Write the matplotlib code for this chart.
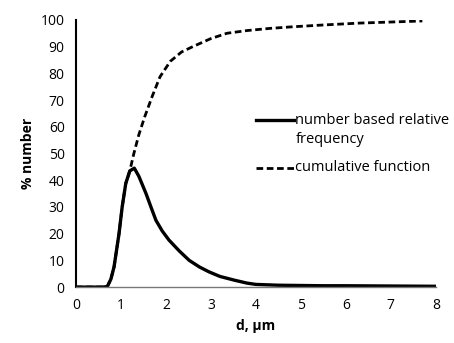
import matplotlib.pyplot as plt

plt.rcParams['font.family'] = ['Open Sans', 'DejaVu Sans']

# number based relative frequency
d_freq = [0.0, 0.3, 0.6, 0.7, 0.78, 0.85, 0.96, 1.03, 1.11, 1.2, 1.3, 1.4, 1.56, 1.68, 1.78,
          1.92, 2.07, 2.3, 2.52, 2.75, 2.96, 3.2, 3.52, 3.8, 4.0, 4.5, 5.0, 5.5, 6.0, 7.0, 8.0]
freq = [0.0, 0.0, 0.0, 0.2, 3.0, 7.6, 20.0, 30.0, 38.8, 43.5, 44.5, 41.5, 35.0, 29.5, 25.0,
        21.0, 17.6, 13.5, 10.0, 7.5, 5.7, 4.0, 2.6, 1.5, 1.0, 0.7, 0.6, 0.5, 0.5, 0.4, 0.3]

# cumulative function
d_cum = [0.0, 0.6, 0.7, 0.78, 0.85, 0.96, 1.03, 1.11, 1.2, 1.29, 1.4, 1.53, 1.7, 1.87, 2.1,
         2.35, 2.6, 3.0, 3.36, 3.8, 4.3, 4.8, 5.5, 6.3, 7.0, 7.7]
cum = [0.0, 0.0, 0.2, 3.0, 7.6, 20.0, 30.0, 38.8, 43.5, 50.0, 57.0, 63.7, 71.5, 78.7, 84.5,
       88.0, 90.0, 93.0, 95.0, 96.0, 96.8, 97.4, 98.1, 98.8, 99.2, 99.6]

fig = plt.figure(figsize=(4.54, 3.43), dpi=100)
ax = fig.add_axes([0.167, 0.163, 0.793, 0.779])

ax.plot(d_freq, freq, color='black', lw=2.4, solid_capstyle='round')
ax.plot(d_cum, cum, color='black', lw=2.0, linestyle=(0, (2.4, 1.3)))

ax.set_xlim(0, 8)
ax.set_ylim(0, 100)
ax.set_xticks(range(0, 9))
ax.set_yticks(range(0, 101, 10))
ax.tick_params(length=0, labelsize=10, pad=8)
for s in ['top', 'right']:
    ax.spines[s].set_visible(False)
ax.spines['left'].set_linewidth(1.5)
ax.spines['bottom'].set_color('#777777')
ax.spines['bottom'].set_linewidth(1.0)

ax.set_xlabel('d, µm', fontweight='bold', fontsize=10)
ax.set_ylabel('% number', fontweight='bold', fontsize=10)

# legend drawn by hand so the handle lines up with the first text line
tr = ax.transAxes
ax.plot([0.50, 0.605], [0.625, 0.625], color='black', lw=2.4, transform=tr, clip_on=False)
ax.text(0.61, 0.625, 'number based relative', transform=tr, fontsize=10.5,
        va='center', ha='left')
ax.text(0.61, 0.551, 'frequency', transform=tr, fontsize=10.5, va='center', ha='left')
ax.plot([0.50, 0.605], [0.446, 0.446], color='black', lw=2.0, linestyle=(0, (2.4, 1.3)),
        transform=tr, clip_on=False)
ax.text(0.61, 0.446, 'cumulative function', transform=tr, fontsize=10.5, va='center', ha='left')

fig.savefig('out.png', dpi=100)
